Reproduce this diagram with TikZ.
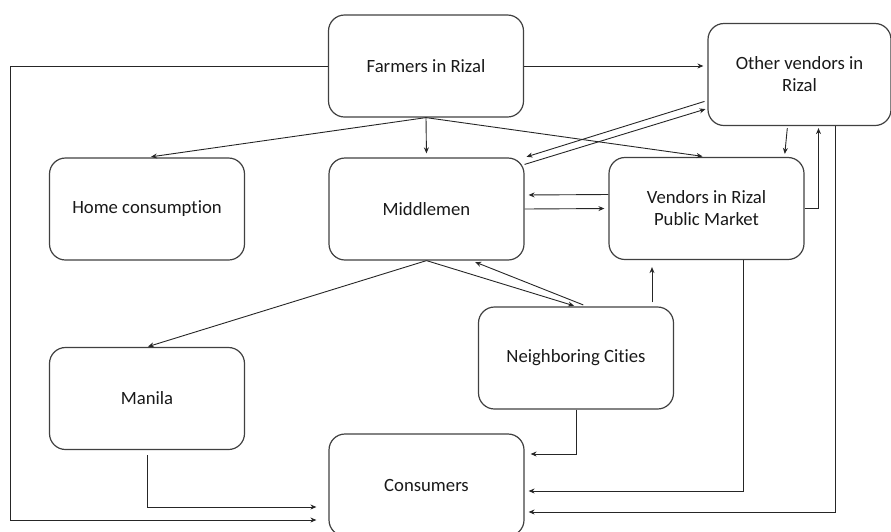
\documentclass[tikz,border=0pt]{standalone}
\usepackage{fontspec}
\setmainfont{Carlito}[Ligatures=NoCommon]
\usetikzlibrary{calc}
\usetikzlibrary{arrows.meta}

\begin{document}
\begin{tikzpicture}[>={Stealth[length=6pt,width=5pt]},x=1pt,y=-1pt,
        box/.style={draw=black!75,line width=1.2pt,rounded corners=16pt,
            minimum width=195pt,minimum height=102pt,inner sep=0pt,align=center,
            font=\fontsize{18.7}{22}\selectfont,text=black!90},
        flow/.style={->,draw=black!85,line width=0.9pt,shorten >=4pt}]
                        \useasboundingbox (0,0) rectangle (891,531);
                        \node[box] (farm) at (426,66) {Farmers in Rizal};
                        \node[box,minimum width=183pt] (other) at (799.5,74.5) {Other vendors in\\Rizal};
                        \node[box] (home) at (147,209) {Home consumption};
                        \node[box] (mid) at (426.5,209) {Middlemen};
                        \node[box] (vend) at (706.5,208.5) {Vendors in Rizal\\Public Market};
                        \node[box] (neigh) at (576,358) {Neighboring Cities};
                        \node[box] (manila) at (147,398.5) {Manila};
                        \node[box] (cons) at (426.5,485) {Consumers};
                        % farmers
                        \draw[flow,shorten >=12pt] (farm.west) -| (10,520) -- ($(cons.west)+(0,35)$);
                        \draw[flow] (farm.east) -- (other.west |- farm.east);
                        \draw[flow] (farm.south) -- (home.north);
                        \draw[flow] (farm.south) -- (mid.north);
                        \draw[flow] (farm.south) -- (vend.north);
                        % other vendors and market
                        \draw[flow,shorten <=3pt,shorten >=2pt] ($(other.west)+(0,26)$) -- (mid.north east);
                        \draw[flow,shorten >=2pt] ($(mid.north east)+(0,7)$) -- ($(other.west)+(0,34)$);
                        \draw[flow,shorten <=2pt,shorten >=3pt] ($(other.south)+(-12,0)$) -- ($(vend.north)+(78,0)$);
                        \draw[flow,shorten >=2pt] (vend.east) -| ($(other.south)+(19,0)$);
                        \draw[flow] ($(vend.west)+(0,-14)$) -- ($(mid.east)+(0,-14)$);
                        \draw[flow] (mid.east) -- (vend.west);
                        % to consumers
                        \draw[flow] ($(other.south)+(35.5,0)$) |- ($(cons.east)+(0,27)$);
                        \draw[flow] ($(vend.south)+(36.5,0)$) |- ($(cons.east)+(0,6)$);
                        \draw[flow,shorten >=6pt] (neigh.south) |- ($(cons.east)+(0,-31)$);
                        \draw[flow,shorten <=5pt,shorten >=12pt] (manila.south) |- ($(cons.west)+(0,22)$);
                        % middlemen and neighboring cities
                        \draw[flow,shorten <=4pt,shorten >=7pt] ($(neigh.north)+(76,0)$) -- ($(vend.south)+(-54.5,0)$);
                        \draw[flow,shorten >=1pt] (mid.south) -- (manila.north);
                        \draw[flow,shorten >=2pt] (mid.south) -- (neigh.north);
                        \draw[flow,shorten <=4pt] ($(neigh.north)+(11,0)$) -- ($(mid.south)+(45,0)$);
                    \end{tikzpicture}
\end{document}
